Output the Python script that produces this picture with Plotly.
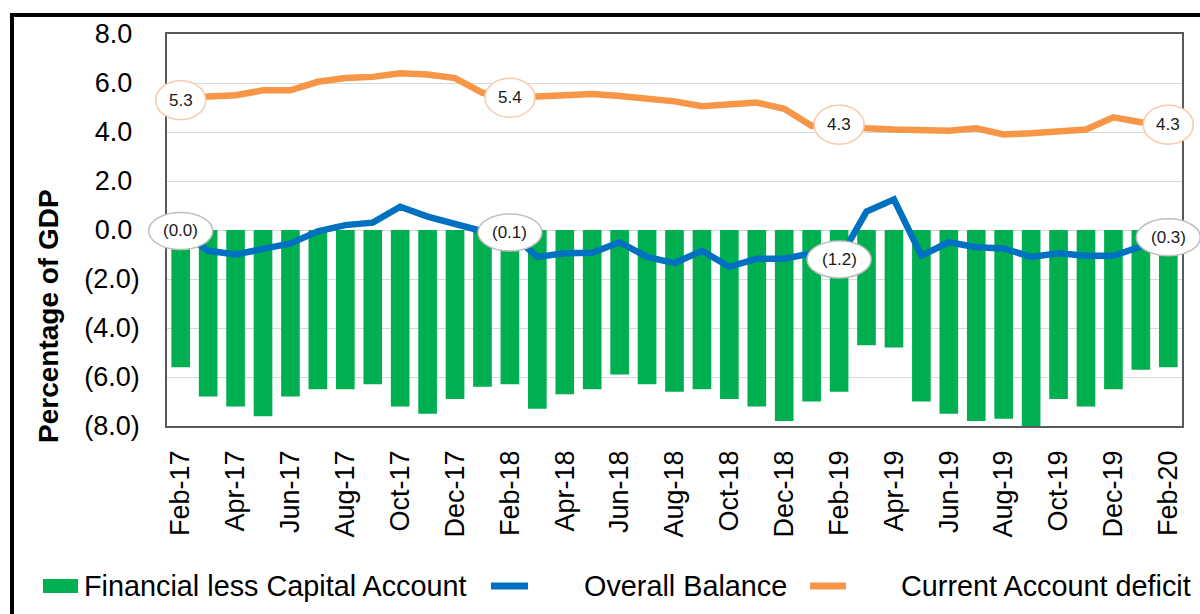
import plotly.graph_objects as go

months = ["Feb-17", "Mar-17", "Apr-17", "May-17", "Jun-17", "Jul-17", "Aug-17", "Sep-17",
          "Oct-17", "Nov-17", "Dec-17", "Jan-18", "Feb-18", "Mar-18", "Apr-18", "May-18",
          "Jun-18", "Jul-18", "Aug-18", "Sep-18", "Oct-18", "Nov-18", "Dec-18", "Jan-19",
          "Feb-19", "Mar-19", "Apr-19", "May-19", "Jun-19", "Jul-19", "Aug-19", "Sep-19",
          "Oct-19", "Nov-19", "Dec-19", "Jan-20", "Feb-20"]

fin_less_capital = [-5.6, -6.8, -7.2, -7.6, -6.8, -6.5, -6.5, -6.3, -7.2, -7.5, -6.9, -6.4,
                    -6.3, -7.3, -6.7, -6.5, -5.9, -6.3, -6.6, -6.5, -6.9, -7.2, -7.8, -7.0,
                    -6.6, -4.7, -4.8, -7.0, -7.5, -7.8, -7.7, -8.2, -6.9, -7.2, -6.5, -5.7, -5.6]

overall_balance = [-0.04, -0.85, -1.0, -0.8, -0.55, -0.05, 0.2, 0.3, 0.95, 0.55, 0.25, -0.05,
                   -0.1, -1.1, -0.95, -0.93, -0.5, -1.1, -1.35, -0.85, -1.5, -1.17, -1.17, -0.95,
                   -1.2, 0.75, 1.25, -1.05, -0.5, -0.7, -0.75, -1.1, -0.95, -1.05, -1.05, -0.7, -0.3]

current_account_deficit = [5.3, 5.45, 5.5, 5.7, 5.7, 6.05, 6.2, 6.25, 6.4, 6.35, 6.2, 5.6,
                           5.4, 5.45, 5.45, 5.55, 5.47, 5.35, 5.25, 5.05, 5.1, 5.2, 4.95, 4.25,
                           4.3, 4.15, 4.1, 4.05, 4.05, 4.15, 3.9, 3.95, 4.0, 4.1, 4.6, 4.4, 4.3]

label_idx = [0, 12, 24, 36]
y_ticks = [-8, -6, -4, -2, 0, 2, 4, 6, 8]
y_range = [-8, 8]

GREEN, BLUE, ORANGE = "#00B050", "#0070C0", "#F79646"
FONT = "Liberation Sans, Arial, sans-serif"

# pixel geometry of plot area
L, R, T, B = 167, 1182, 34, 426


def px(X):
    return (X - L) / (R - L)


def py(Y):
    return (B - Y) / (B - T)


def fmt(v):
    s = f"{abs(v):.1f}"
    return f"({s})" if v < 0 else s


def ytxt(v):
    return f"({abs(v):.1f})" if v < 0 else f"{v:.1f}\u00a0"


n = len(months)
fig = go.Figure()
fig.add_bar(x=months, y=fin_less_capital, marker=dict(color=GREEN, line=dict(width=0)),
            showlegend=False)
fig.add_scatter(x=months, y=overall_balance, mode="lines",
                line=dict(color=BLUE, width=6.5), showlegend=False)
fig.add_scatter(x=months, y=current_account_deficit, mode="lines",
                line=dict(color=ORANGE, width=6.5), showlegend=False)

shapes = []
annotations = []


def to_paper(i, v):
    return (i + 0.5) / n, (v - y_range[0]) / (y_range[1] - y_range[0])


for series, border, w, h in [(current_account_deficit, "#F8CBAD", 50, 39),
                             (overall_balance, "#BFBFBF", 64, 37)]:
    for i in label_idx:
        cx, cy = to_paper(i, series[i])
        hw = w / 2 / (R - L)
        hh = h / 2 / (B - T)
        shapes.append(dict(type="circle", xref="paper", yref="paper",
                           x0=cx - hw, x1=cx + hw, y0=cy - hh, y1=cy + hh,
                           fillcolor="white", line=dict(color=border, width=1.5),
                           layer="above"))
        annotations.append(dict(x=months[i], y=series[i], xref="x", yref="y",
                                text=fmt(series[i]), showarrow=False,
                                font=dict(family=FONT, size=17, color="#1a1a1a")))

# outer frame
shapes.append(dict(type="rect", xref="paper", yref="paper",
                   x0=px(12), x1=px(1230), y0=py(650), y1=py(15),
                   line=dict(color="black", width=4), layer="above"))

# legend (manual)
ly = py(586)
shapes.append(dict(type="rect", xref="paper", yref="paper",
                   x0=px(43), x1=px(78), y0=py(593), y1=py(579),
                   fillcolor=GREEN, line=dict(width=0)))
shapes.append(dict(type="line", xref="paper", yref="paper",
                   x0=px(491), x1=px(528), y0=ly, y1=ly,
                   line=dict(color=BLUE, width=7)))
shapes.append(dict(type="line", xref="paper", yref="paper",
                   x0=px(810), x1=px(846), y0=ly, y1=ly,
                   line=dict(color=ORANGE, width=7)))
for text, X in [("Financial less Capital Account", 82),
                ("Overall Balance", 582),
                ("Current Account deficit", 899)]:
    annotations.append(dict(x=px(X), y=ly, xref="paper", yref="paper", text=text,
                            showarrow=False, xanchor="left", yanchor="middle",
                            font=dict(family=FONT, size=28.8, color="black")))

# y-axis title
annotations.append(dict(x=px(48), y=py(316), xref="paper", yref="paper",
                        text="<b>Percentage of GDP</b>", textangle=-90, showarrow=False,
                        xanchor="center", yanchor="middle",
                        font=dict(family=FONT, size=28, color="black")))

fig.update_layout(
    template="none",
    width=1200, height=614,
    margin=dict(l=L, r=1200 - R, t=T, b=614 - B, pad=0),
    paper_bgcolor="white", plot_bgcolor="white",
    bargap=0.32,
    showlegend=False,
    shapes=shapes,
    annotations=annotations,
    xaxis=dict(type="category", categoryorder="array", categoryarray=months,
               range=[-0.5, n - 0.5],
               tickmode="array", tickvals=months[::2], ticktext=months[::2],
               tickangle=-90, tickfont=dict(family=FONT, size=27, color="black"),
               ticks="outside", ticklen=12, tickcolor="rgba(0,0,0,0)",
               showgrid=False, showline=True, linecolor="#595959", linewidth=1.5,
               mirror=True, zeroline=False, automargin=False),
    yaxis=dict(range=y_range, tickmode="array", tickvals=y_ticks,
               ticktext=[ytxt(v) for v in y_ticks],
               tickfont=dict(family=FONT, size=27, color="black"),
               ticks="outside", ticklen=20, tickcolor="rgba(0,0,0,0)",
               showgrid=True, gridcolor="#D9D9D9", gridwidth=1,
               showline=True, linecolor="#595959", linewidth=1.5, mirror=True,
               zeroline=False, automargin=False),
)

fig.write_html("out.html", config={"displayModeBar": False},
               post_script="document.body.style.margin='0';")
